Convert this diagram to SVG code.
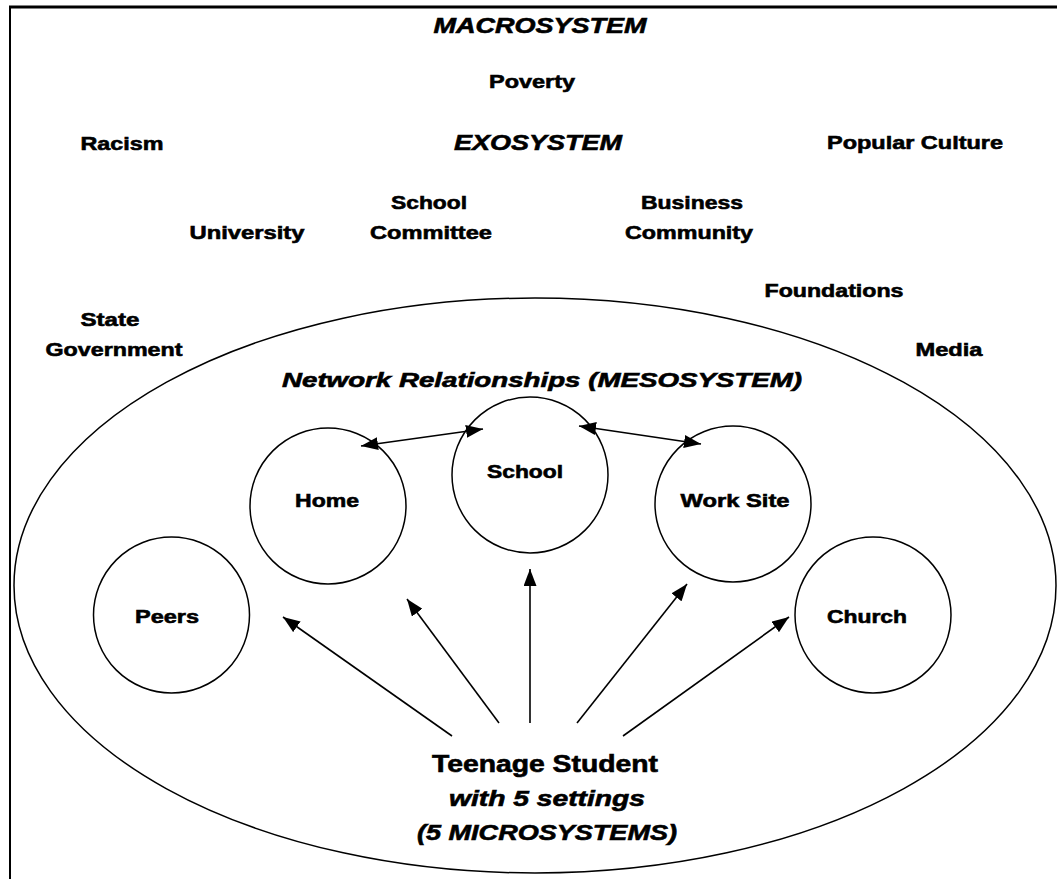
<svg xmlns="http://www.w3.org/2000/svg" width="1057" height="879" viewBox="0 0 1057 879">
<defs>
<style>
.t{font-family:"Liberation Sans",Arial,sans-serif;font-weight:bold;font-size:19px;fill:#000;stroke:#000;stroke-width:0.6;text-anchor:middle}
.i{font-style:italic}
.h{font-size:22px}
.m{font-size:20px}
.b{font-size:23px}
.c{fill:#fff;stroke:#000;stroke-width:1.5}
.l{stroke:#000;stroke-width:1.6;fill:none}
</style>
<marker id="ah" viewBox="0 0 17 13" refX="17" refY="6.5" markerWidth="17" markerHeight="13" markerUnits="userSpaceOnUse" orient="auto-start-reverse">
<path d="M0,0 L17,6.5 L0,13 Z" fill="#000"/>
</marker>
</defs>
<rect width="1057" height="879" fill="#fff"/>
<g id="frame">
<line x1="9" y1="7" x2="1057" y2="7" stroke="#000" stroke-width="3"/>
<line x1="10" y1="6" x2="10" y2="879" stroke="#000" stroke-width="2"/>
</g>
<g id="macrosystem">
<text class="t i h" x="540" y="33" textLength="213" lengthAdjust="spacingAndGlyphs">MACROSYSTEM</text>
<text class="t" x="532" y="88" textLength="86" lengthAdjust="spacingAndGlyphs">Poverty</text>
<text class="t" x="122" y="150" textLength="83" lengthAdjust="spacingAndGlyphs">Racism</text>
<text class="t" x="915" y="149" textLength="176" lengthAdjust="spacingAndGlyphs">Popular Culture</text>
</g>
<g id="exosystem">
<text class="t i h" x="538" y="150" textLength="168" lengthAdjust="spacingAndGlyphs">EXOSYSTEM</text>
<text class="t" x="429" y="209" textLength="76" lengthAdjust="spacingAndGlyphs">School</text>
<text class="t" x="431" y="239" textLength="122" lengthAdjust="spacingAndGlyphs">Committee</text>
<text class="t" x="247" y="239" textLength="115" lengthAdjust="spacingAndGlyphs">University</text>
<text class="t" x="692" y="209" textLength="102" lengthAdjust="spacingAndGlyphs">Business</text>
<text class="t" x="689" y="239" textLength="128" lengthAdjust="spacingAndGlyphs">Community</text>
<text class="t" x="834" y="297" textLength="139" lengthAdjust="spacingAndGlyphs">Foundations</text>
<text class="t" x="110" y="326" textLength="59" lengthAdjust="spacingAndGlyphs">State</text>
<text class="t" x="114" y="356" textLength="137" lengthAdjust="spacingAndGlyphs">Government</text>
<text class="t" x="949" y="356" textLength="67" lengthAdjust="spacingAndGlyphs">Media</text>
</g>
<g id="mesosystem">
<ellipse class="c" cx="535" cy="585.5" rx="521" ry="287.5"/>
<text class="t i m" x="542" y="387" textLength="520" lengthAdjust="spacingAndGlyphs">Network Relationships (MESOSYSTEM)</text>
</g>
<g id="home">
<circle class="c" cx="328" cy="506" r="78"/>
<text class="t" x="327" y="507" textLength="64" lengthAdjust="spacingAndGlyphs">Home</text>
</g>
<g id="school">
<circle class="c" cx="530" cy="475" r="78"/>
<text class="t" x="525" y="478" textLength="76" lengthAdjust="spacingAndGlyphs">School</text>
</g>
<g id="worksite">
<circle class="c" cx="733" cy="504" r="78"/>
<text class="t" x="735" y="507" textLength="109" lengthAdjust="spacingAndGlyphs">Work Site</text>
</g>
<g id="peers">
<circle class="c" cx="171.5" cy="615" r="78"/>
<text class="t" x="167" y="623" textLength="64" lengthAdjust="spacingAndGlyphs">Peers</text>
</g>
<g id="church">
<circle class="c" cx="873" cy="615" r="78"/>
<text class="t" x="867" y="623" textLength="80" lengthAdjust="spacingAndGlyphs">Church</text>
</g>
<g id="student">
<text class="t b" x="545" y="772" textLength="226" lengthAdjust="spacingAndGlyphs">Teenage Student</text>
<text class="t i h" x="547" y="806" textLength="196" lengthAdjust="spacingAndGlyphs">with 5 settings</text>
<text class="t i h" x="547" y="840" textLength="260" lengthAdjust="spacingAndGlyphs">(5 MICROSYSTEMS)</text>
</g>
<g id="connectors">
<line class="l" x1="361" y1="446" x2="483" y2="429" marker-start="url(#ah)" marker-end="url(#ah)"/>
<line class="l" x1="579" y1="426" x2="701" y2="444" marker-start="url(#ah)" marker-end="url(#ah)"/>
<line class="l" x1="452" y1="736" x2="283" y2="617" marker-end="url(#ah)"/>
<line class="l" x1="499" y1="723" x2="407" y2="599" marker-end="url(#ah)"/>
<line class="l" x1="530" y1="723" x2="530" y2="569" marker-end="url(#ah)"/>
<line class="l" x1="577" y1="723" x2="687" y2="584" marker-end="url(#ah)"/>
<line class="l" x1="623" y1="736" x2="789" y2="617" marker-end="url(#ah)"/>
</g>
</svg>
